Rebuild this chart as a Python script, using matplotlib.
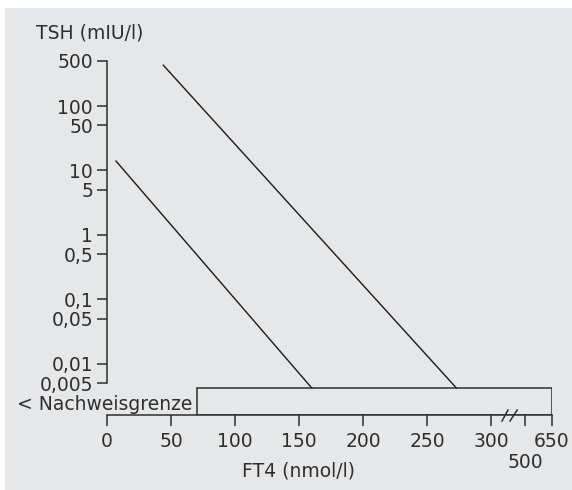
import numpy as np
from matplotlib import pyplot as plt
from matplotlib.patches import Rectangle
from matplotlib.ticker import NullLocator
import matplotlib.transforms as mtransforms

# data
line_low_x = [7, 160]
line_low_y = [14, 0.0042]
line_high_x = [44, 273]
line_high_y = [430, 0.0042]

y_ticks = [500, 100, 50, 10, 5, 1, 0.5, 0.1, 0.05, 0.01, 0.005]
y_labels = ["500", "100", "50", "10", "5", "1", "0,5", "0,1", "0,05", "0,01", "0,005"]
x_ticks = [0, 50, 100, 150, 200, 250, 300, 500, 650]
x_labels = ["0", "50", "100", "150", "200", "250", "300", "", "650"]
x_low_label = (500, "500")   # printed one line lower, under its tick

box_x = [70, 650]
box_y = [0.0016, 0.0042]   # "< Nachweisgrenze" band

bg = "#e6e7e9"
ink = "#2e2e2e"
plt.rcParams["font.family"] = "DejaVu Sans"
plt.rcParams["font.size"] = 13.5


def fwd(x):
    x = np.asarray(x, dtype=float)
    return np.where(x <= 300, x,
                    np.where(x <= 500, 300 + (x - 300) * 0.133,
                             326.6 + (x - 500) * 0.1407))


def inv(u):
    u = np.asarray(u, dtype=float)
    return np.where(u <= 300, u,
                    np.where(u <= 326.6, 300 + (u - 300) / 0.133,
                             500 + (u - 326.6) / 0.1407))


fig = plt.figure(figsize=(5.72, 4.90), dpi=100, facecolor="white")
fig.patches.append(Rectangle((5 / 572, 0), 1, 1 - 8 / 490, transform=fig.transFigure,
                             facecolor=bg, edgecolor="none", zorder=-10))

ax = fig.add_axes([107 / 572, 75 / 490, 445 / 572, 354 / 490])
ax.set_facecolor("none")
ax.set_xscale("function", functions=(fwd, inv))
ax.set_yscale("log")
ax.set_xlim(0, 650)
ax.set_ylim(box_y[0], 500)

ax.plot(line_low_x, line_low_y, color="#1a1a1a", lw=1.0)
ax.plot(line_high_x, line_high_y, color="#1a1a1a", lw=1.0)

ax.add_patch(Rectangle((box_x[0], box_y[0]), box_x[1] - box_x[0], box_y[1] - box_y[0],
                       facecolor="none", edgecolor=ink, lw=1.1, zorder=3))
ax.annotate("< Nachweisgrenze", xy=(box_x[0], np.sqrt(box_y[0] * box_y[1])),
            xytext=(-3, -2.5), textcoords="offset points", ha="right", va="center",
            color=ink, annotation_clip=False)

for s in ["top", "right"]:
    ax.spines[s].set_visible(False)
ax.spines["left"].set_bounds(0.005, 500)
ax.spines["bottom"].set_bounds(0, 650)
for s in ["left", "bottom"]:
    ax.spines[s].set_color(ink)
    ax.spines[s].set_linewidth(1.1)

ax.set_yticks(y_ticks)
ax.set_yticklabels(y_labels)
ax.yaxis.set_minor_locator(NullLocator())
ax.set_xticks(x_ticks)
ax.set_xticklabels(x_labels)
ax.xaxis.set_minor_locator(NullLocator())
ax.tick_params(axis="y", length=7.5, width=1.1, color=ink, labelcolor=ink, pad=2.5)
ax.tick_params(axis="x", length=8, width=1.1, color=ink, labelcolor=ink, pad=4)

tr = mtransforms.blended_transform_factory(ax.transData, ax.transAxes)
ax.annotate(x_low_label[1], xy=(x_low_label[0], 0), xycoords=tr,
            xytext=(0, -34), textcoords="offset points", ha="center", va="center",
            color=ink, annotation_clip=False)

ax.set_xlabel("FT4 (nmol/l)", color=ink, labelpad=0)
ax.xaxis.set_label_coords(fwd(150) / fwd(650), -0.13)
fig.text(36 / 572, 1 - 33 / 490, "TSH (mIU/l)", ha="left", va="center", color=ink)

# axis break marks
for xa, xb in [(365, 400), (412, 454)]:
    ax.plot([xa, xb], [-0.017, 0.014], color=ink, lw=1.1, transform=tr, clip_on=False)

fig.savefig("out.png", dpi=100, facecolor=fig.get_facecolor())
